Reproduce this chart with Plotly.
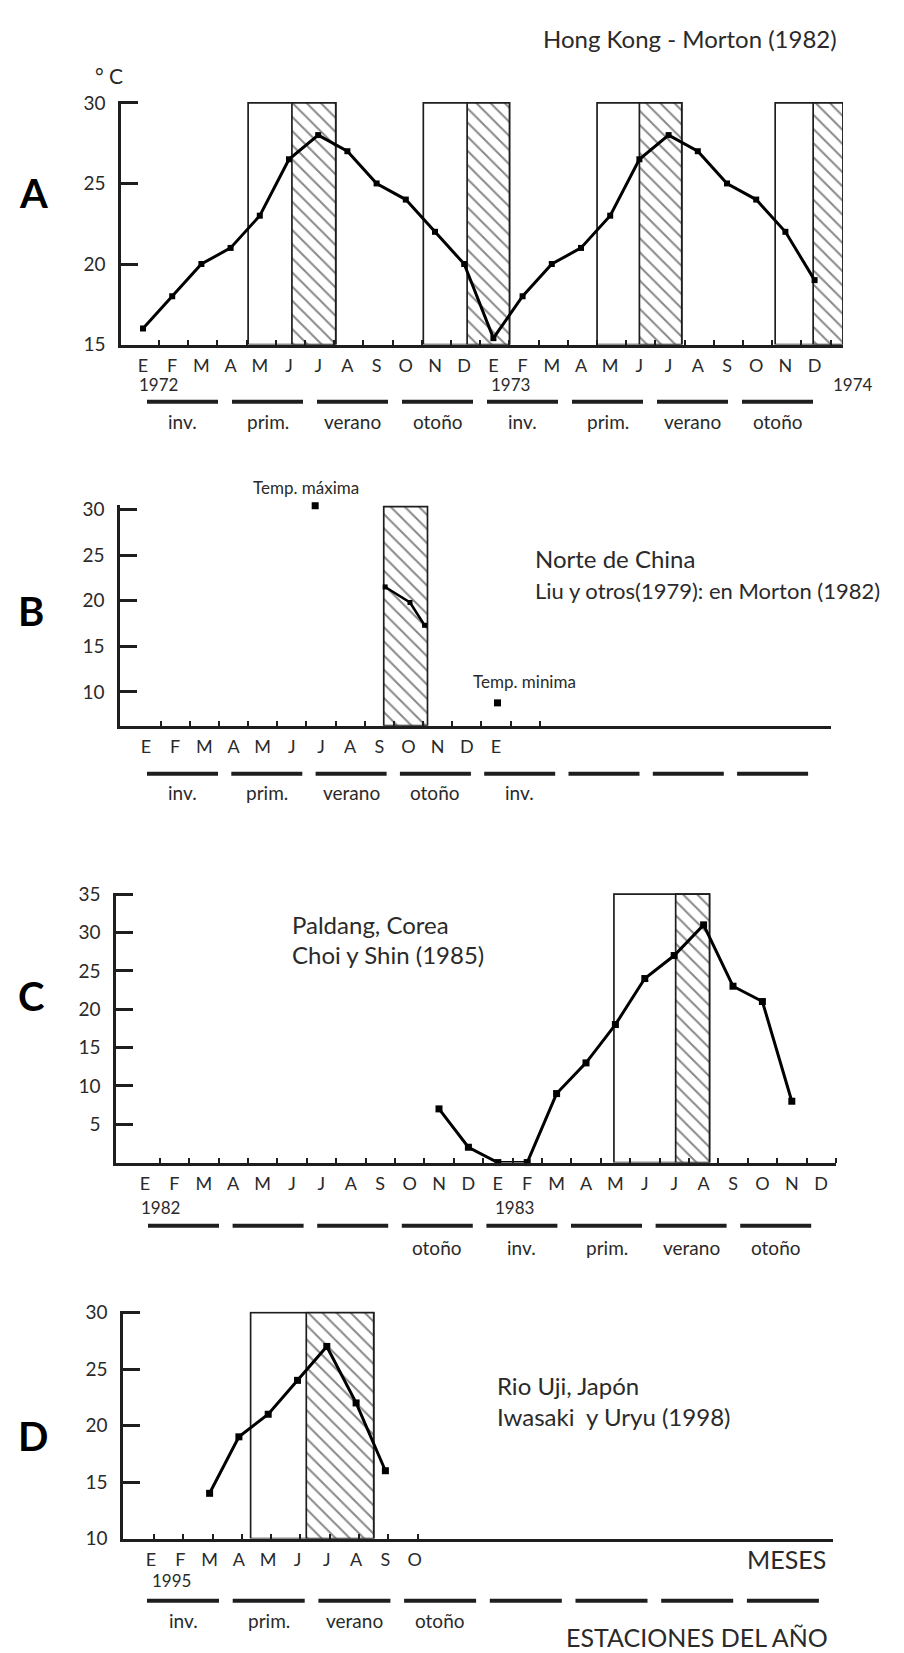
import plotly.graph_objects as go

W, H = 904, 1653
INK = "#1e1e1e"
TXT = "#2a2a2a"
FONT = "Lato"

MONTHS = ["E", "F", "M", "A", "M", "J", "J", "A", "S", "O", "N", "D"]

# ---------------- data ----------------
# Panel A : Hong Kong 1972-1973
A_months = list(range(24))
A_temp = [16, 18, 20, 21, 23, 26.5, 28, 27, 25, 24, 22, 20,
          15.4, 18, 20, 21, 23, 26.5, 28, 27, 25, 24, 22, 19]
A_open = [(3.6, 5.1), (9.6, 11.1), (15.55, 17.0), (21.65, 22.95)]
A_hatch = [(5.1, 6.6), (11.1, 12.55), (17.0, 18.45), (22.95, 23.97)]
A_box_top = 30
A_month_labels = MONTHS * 2
A_seasons = ["inv.", "prim.", "verano", "otoño"] * 2
A_yticks = [15, 20, 25, 30]
A_years = ["1972", "1973", "1974"]

# Panel B : Norte de China
B_line_x = [8.2, 9.05, 9.55]
B_line_y = [21.5, 19.8, 17.3]
B_max_x, B_max_y = [5.8], [30.4]
B_min_x, B_min_y = [12.05], [8.8]
B_hatch = [(8.15, 9.65)]
B_box_top = 30.3
B_month_labels = MONTHS + ["E"]
B_seasons = ["inv.", "prim.", "verano", "otoño", "inv.", "", "", ""]
B_yticks = [10, 15, 20, 25, 30]

# Panel C : Paldang, Corea 1982-1983
C_months = list(range(10, 23))
C_temp = [7, 2, 0, 0, 9, 13, 18, 24, 27, 31, 23, 21, 8]
C_open = [(15.95, 18.05)]
C_hatch = [(18.05, 19.2)]
C_box_top = 35
C_month_labels = MONTHS * 2
C_seasons = ["", "", "", "otoño", "inv.", "prim.", "verano", "otoño"]
C_yticks = [5, 10, 15, 20, 25, 30, 35]
C_years = ["1982", "1983"]

# Panel D : Rio Uji, Japon 1995
D_months = list(range(2, 9))
D_temp = [14, 19, 21, 24, 27, 22, 16]
D_open = [(3.4, 5.3)]
D_hatch = [(5.3, 7.6)]
D_box_top = 30
D_month_labels = MONTHS[:10]
D_seasons = ["inv.", "prim.", "verano", "otoño", "", "", "", ""]
D_yticks = [10, 15, 20, 25, 30]
D_years = ["1995"]

# ---------------- layout geometry (pixels) ----------------
GEOM = {
    "A": dict(x0=113, x1=835, e0=135, dx=29.2, v1=(15, 330), v2=(30, 85), yr=(15, 30.1),
              n=1, bar_y=388, lab_y=408, s_x0=139, s_step=85.0, s_w=71),
    "B": dict(x0=112, x1=823, e0=138, dx=29.17, v1=(10, 682), v2=(30, 497), yr=(6.3, 30.5),
              n=2, bar_y=765, lab_y=784, s_x0=139, s_step=84.3, s_w=71),
    "C": dict(x0=108, x1=828, e0=137, dx=29.4, v1=(0, 1159), v2=(35, 887), yr=(0, 35.15),
              n=3, bar_y=1223, lab_y=1245, s_x0=140, s_step=84.6, s_w=71),
    "D": dict(x0=115, x1=825, e0=143, dx=29.3, v1=(10, 1540), v2=(30, 1311), yr=(10, 30.1),
              n=4, bar_y=1603, lab_y=1623, s_x0=139, s_step=85.7, s_w=72),
}

fig = go.Figure()
layout = dict(width=W, height=H, margin=dict(l=0, r=0, t=0, b=0),
              paper_bgcolor="white", plot_bgcolor="white", showlegend=False,
              barmode="overlay", annotations=[], shapes=[])


def px_y(g, v):
    (va, pa), (vb, pb) = g["v1"], g["v2"]
    return pa + (v - va) * (pb - pa) / (vb - va)


def axes_for(key, month_labels, yticks, minor_vals):
    g = GEOM[key]
    n = g["n"]
    xa = "xaxis" if n == 1 else f"xaxis{n}"
    ya = "yaxis" if n == 1 else f"yaxis{n}"
    xr = [(g["x0"] - g["e0"]) / g["dx"], (g["x1"] - g["e0"]) / g["dx"]]
    ybot, ytop = px_y(g, g["yr"][0]), px_y(g, g["yr"][1])
    layout[xa] = dict(
        domain=[g["x0"] / W, g["x1"] / W], range=xr, anchor=f"y{'' if n == 1 else n}",
        showline=True, linecolor=INK, linewidth=2.5, showgrid=False, zeroline=False,
        tickmode="array", tickvals=list(range(len(month_labels))), ticktext=month_labels,
        ticks="", tickfont=dict(family=FONT, size=18, color=TXT), ticklabelstandoff=3,
        minor=dict(tickmode="array", tickvals=minor_vals, ticks="inside", ticklen=5,
                   tickwidth=1.5, tickcolor=INK, showgrid=False),
        fixedrange=True,
    )
    layout[ya] = dict(
        domain=[1 - ybot / H, 1 - ytop / H], range=list(g["yr"]),
        anchor=f"x{'' if n == 1 else n}",
        showline=True, linecolor=INK, linewidth=2.5, showgrid=False, zeroline=False,
        tickmode="array", tickvals=yticks, ticks="inside", ticklen=17, tickwidth=2.5,
        tickcolor=INK, tickfont=dict(family=FONT, size=19, color=TXT), ticklabelstandoff=9,
        fixedrange=True,
    )
    return ("x" if n == 1 else f"x{n}"), ("y" if n == 1 else f"y{n}")


def add_boxes(xr, yr, key, spans, top, hatched):
    if not spans:
        return
    ybase = GEOM[key]["yr"][0]
    centers = [(a + b) / 2 for a, b in spans]
    widths = [b - a for a, b in spans]
    marker = dict(color="rgba(255,255,255,0)", line=dict(color=INK, width=1.7))
    if hatched:
        marker = dict(color="white", line=dict(color=INK, width=1.7),
                      pattern=dict(shape="\\", fgcolor="#111111", bgcolor="white",
                                   size=10, solidity=0.2))
    fig.add_trace(go.Bar(x=centers, y=[top - ybase] * len(spans), base=ybase,
                         width=widths, marker=marker, xaxis=xr, yaxis=yr,
                         hoverinfo="skip"))


def add_line(xr, yr, xs, ys, width=3, msize=6):
    fig.add_trace(go.Scatter(x=xs, y=ys, mode="lines+markers", xaxis=xr, yaxis=yr,
                             line=dict(color="black", width=width),
                             marker=dict(symbol="square", size=msize, color="black"),
                             cliponaxis=False, hoverinfo="skip"))


def add_seasons(key, labels):
    g = GEOM[key]
    for k, lab in enumerate(labels):
        a = g["s_x0"] + k * g["s_step"]
        b = a + g["s_w"]
        layout["shapes"].append(dict(type="line", xref="paper", yref="paper",
                                     x0=a / W, x1=b / W, y0=1 - g["bar_y"] / H,
                                     y1=1 - g["bar_y"] / H,
                                     line=dict(color=INK, width=4)))
        if lab:
            text(lab, (a + b) / 2, g["lab_y"], 19)


def text(s, x, y, size, anchor="center", bold=False, color=TXT):
    layout["annotations"].append(dict(
        text=s, x=x / W, y=1 - y / H, xref="paper", yref="paper", showarrow=False,
        xanchor=anchor, yanchor="middle",
        font=dict(family=FONT, size=size, color=color, weight="bold" if bold else "normal")))


# ---------------- Panel A ----------------
xa, ya = axes_for("A", A_month_labels, A_yticks, [i + 0.55 for i in range(24)])
add_boxes(xa, ya, "A", [(o[0], h[1]) for o, h in zip(A_open, A_hatch)], A_box_top, False)
add_boxes(xa, ya, "A", A_hatch, A_box_top, True)
add_line(xa, ya, A_months, A_temp, 3, 6)
add_seasons("A", A_seasons)
text("Hong Kong - Morton (1982)", 682, 20, 24)
text("° C", 101, 57, 21)
text("A", 25, 176, 40, bold=True, color="black")
for lab, cx in zip(A_years, [150, 503, 845]):
    text(lab, cx, 370, 17)

# ---------------- Panel B ----------------
xb, yb = axes_for("B", B_month_labels, B_yticks, [i + 0.5 for i in range(14)])
add_boxes(xb, yb, "B", B_hatch, B_box_top, True)
add_line(xb, yb, B_line_x, B_line_y, 2.5, 5)
fig.add_trace(go.Scatter(x=B_max_x + B_min_x, y=B_max_y + B_min_y, mode="markers",
                         xaxis=xb, yaxis=yb, cliponaxis=False, hoverinfo="skip",
                         marker=dict(symbol="square", size=7, color="black")))
add_seasons("B", B_seasons)
text("Temp. máxima", 298, 475, 17)
text("Temp. minima", 516, 671, 17)
text("Norte de China", 525, 547, 24, anchor="left")
text("Liu y otros(1979): en Morton (1982)", 525, 579, 22, anchor="left")
text("B", 23, 600, 40, bold=True, color="black")

# ---------------- Panel C ----------------
xc, yc = axes_for("C", C_month_labels, C_yticks, [i + 0.5 for i in range(24)])
add_boxes(xc, yc, "C", [(o[0], h[1]) for o, h in zip(C_open, C_hatch)], C_box_top, False)
add_boxes(xc, yc, "C", C_hatch, C_box_top, True)
add_line(xc, yc, C_months, C_temp, 3, 7)
add_seasons("C", C_seasons)
text("Paldang, Corea", 282, 918, 24, anchor="left")
text("Choi y Shin (1985)", 282, 948, 24, anchor="left")
text("C", 23, 990, 40, bold=True, color="black")
for lab, cx in zip(C_years, [152, 507]):
    text(lab, cx, 1205, 17)

# ---------------- Panel D ----------------
xd, yd = axes_for("D", D_month_labels, D_yticks, [i + 0.1 for i in range(10)])
add_boxes(xd, yd, "D", [(o[0], h[1]) for o, h in zip(D_open, D_hatch)], D_box_top, False)
add_boxes(xd, yd, "D", D_hatch, D_box_top, True)
add_line(xd, yd, D_months, D_temp, 3, 7)
add_seasons("D", D_seasons)
text("Rio Uji, Japón", 487, 1385, 24, anchor="left")
text("Iwasaki  y Uryu (1998)", 487, 1416, 24, anchor="left")
text("D", 25, 1436, 40, bold=True, color="black")
text("1995", 163, 1583, 17)
text("MESES", 820, 1561, 25, anchor="right")
text("ESTACIONES DEL AÑO", 822, 1640, 25, anchor="right")

fig.update_layout(**layout)
fig.write_html("out.html")
